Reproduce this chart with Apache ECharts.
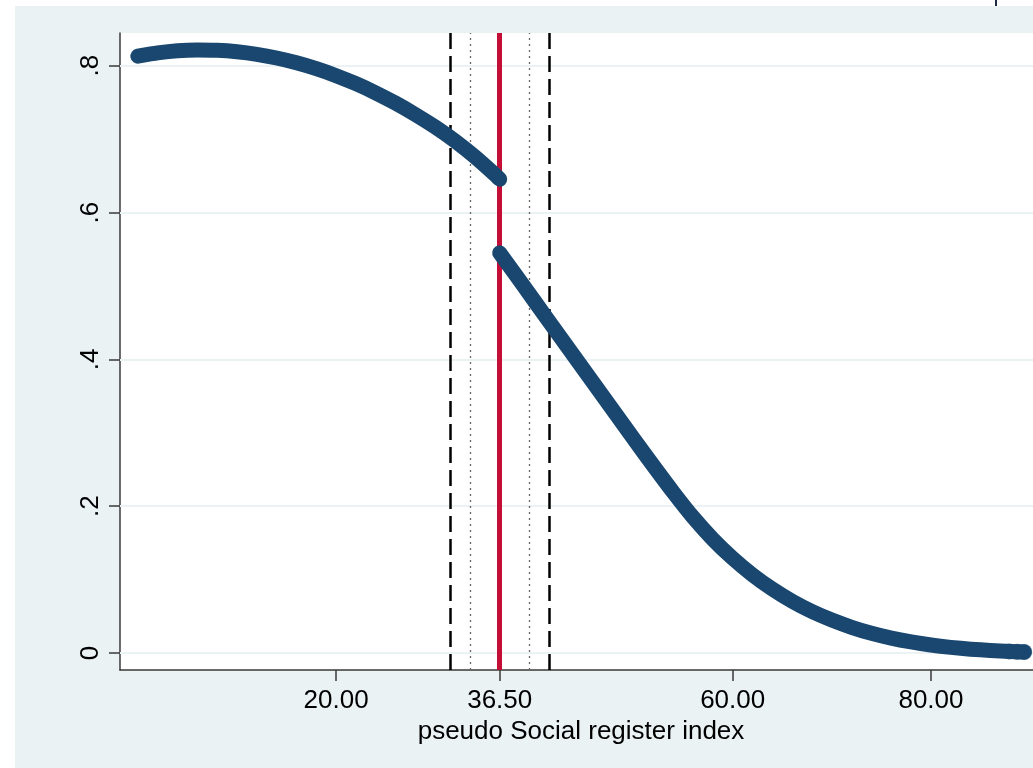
<!DOCTYPE html>
<html>
<head>
<meta charset="utf-8">
<title>pseudo Social register index</title>
<script src="https://cdn.jsdelivr.net/npm/echarts@6/dist/echarts.min.js"></script>
<style>
  html, body { margin: 0; padding: 0; background: #ffffff; }
  #chart { width: 1033px; height: 768px; }
</style>
</head>
<body>
<div id="chart"></div>
<script>
// Fitted probability below the cutoff (x, y)
const leftCurve = [
  [0, 0.813], [2, 0.8175], [4, 0.8205], [6, 0.8215], [8, 0.821], [10, 0.819],
  [12, 0.8155], [14, 0.8105], [16, 0.804], [18, 0.796], [20, 0.7865], [22, 0.7755],
  [24, 0.763], [26, 0.749], [28, 0.7335], [30, 0.7165], [32, 0.6975], [34, 0.676],
  [36, 0.652], [36.5, 0.6455]
];
// Fitted probability above the cutoff (x, y)
const rightCurve = [
  [36.5, 0.545], [38, 0.517], [40, 0.4795], [42, 0.442], [44, 0.4045], [46, 0.367],
  [48, 0.3295], [50, 0.292], [52, 0.255], [54, 0.219], [56, 0.185], [58, 0.155],
  [60, 0.129], [62, 0.1064], [64, 0.087], [66, 0.0704], [68, 0.0564], [70, 0.0448],
  [72, 0.035], [74, 0.0268], [76, 0.0202], [78, 0.015], [80, 0.0108], [82, 0.0076],
  [84, 0.0052], [86, 0.0034], [88, 0.002], [89.4, 0.0013]
];
// Last few observations at the upper end of the index
const tailPoints = [[87.9, 0.0021], [88.7, 0.0016], [89.4, 0.0013]];

const cutoff = 36.5;
const innerBand = [33.5, 39.5];
const outerBand = [31.5, 41.5];

const xTickValues = [20, 36.5, 60, 80];
const yTickValues = [0, 0.2, 0.4, 0.6, 0.8];
const yTickLabels = ['0', '.2', '.4', '.6', '.8'];

const navy = '#1A476F';
const bluishGray = '#EAF2F3';
const font = '"Liberation Sans", Arial, Helvetica, sans-serif';

const chart = echarts.init(document.getElementById('chart'), null, { renderer: 'canvas' });

chart.setOption({
  backgroundColor: '#ffffff',
  animation: false,
  textStyle: { fontFamily: font },
  graphic: [
    {
      type: 'rect', z: -100, silent: true,
      shape: { x: 15, y: 6, width: 1040, height: 780 },
      style: { fill: bluishGray }
    },
    {
      type: 'line', z: -90, silent: true,
      shape: { x1: 996, y1: 0, x2: 996, y2: 6 },
      style: { stroke: '#1a2a40', lineWidth: 2 }
    }
  ],
  grid: {
    left: 120, top: 33, width: 922, height: 637,
    show: true, backgroundColor: '#ffffff', borderWidth: 0,
    containLabel: false, outerBoundsMode: 'none'
  },
  xAxis: {
    type: 'value',
    min: -1.8, max: 91.2,
    name: 'pseudo Social register index',
    nameLocation: 'middle',
    nameGap: 41,
    nameTextStyle: { fontSize: 26, color: '#000', fontFamily: font },
    axisLine: { show: true, onZero: false, lineStyle: { color: '#3a3a3a', width: 1.5 } },
    axisTick: { show: true, length: 11, customValues: xTickValues, lineStyle: { color: '#3a3a3a', width: 1.5 } },
    axisLabel: {
      customValues: xTickValues,
      formatter: v => Number(v).toFixed(2),
      fontSize: 26, color: '#000', margin: 18, fontFamily: font
    },
    splitLine: { show: false }
  },
  yAxis: {
    type: 'value',
    min: -0.0232, max: 0.8446,
    axisLine: { show: true, onZero: false, lineStyle: { color: '#3a3a3a', width: 1.5 } },
    axisTick: { show: true, length: 11, customValues: yTickValues, lineStyle: { color: '#3a3a3a', width: 1.5 } },
    axisLabel: {
      customValues: yTickValues,
      formatter: v => yTickLabels[yTickValues.findIndex(t => Math.abs(t - v) < 1e-9)] || '',
      rotate: 90,
      fontSize: 26, color: '#000', margin: 16, fontFamily: font
    },
    splitLine: { show: false }
  },
  series: [
    {
      name: 'grid',
      type: 'line',
      data: [],
      silent: true,
      markLine: {
        z: 1, silent: true, symbol: 'none', label: { show: false },
        lineStyle: { color: bluishGray, width: 2, type: 'solid' },
        data: yTickValues.map(v => ({ yAxis: v }))
      }
    },
    {
      name: 'bands',
      type: 'line',
      data: [],
      silent: true,
      markLine: {
        z: 2, silent: true, symbol: 'none', label: { show: false },
        data: [
          ...outerBand.map(v => ({ xAxis: v, lineStyle: { color: '#000', width: 2.5, type: [16, 7] } })),
          ...innerBand.map(v => ({ xAxis: v, lineStyle: { color: '#666', width: 1.3, type: [2, 4] } })),
          { xAxis: cutoff, lineStyle: { color: '#C50E36', width: 5, type: 'solid' } }
        ]
      }
    },
    {
      name: 'below',
      type: 'line',
      z: 3,
      data: leftCurve,
      smooth: 0.2,
      showSymbol: false,
      lineStyle: { color: navy, width: 15, cap: 'round', join: 'round' }
    },
    {
      name: 'above',
      type: 'line',
      z: 3,
      data: rightCurve,
      smooth: 0.2,
      showSymbol: false,
      lineStyle: { color: navy, width: 15, cap: 'round', join: 'round' }
    },
    {
      name: 'tail',
      type: 'scatter',
      z: 4,
      data: tailPoints,
      symbolSize: 16,
      itemStyle: { color: navy }
    }
  ]
});
</script>
</body>
</html>
